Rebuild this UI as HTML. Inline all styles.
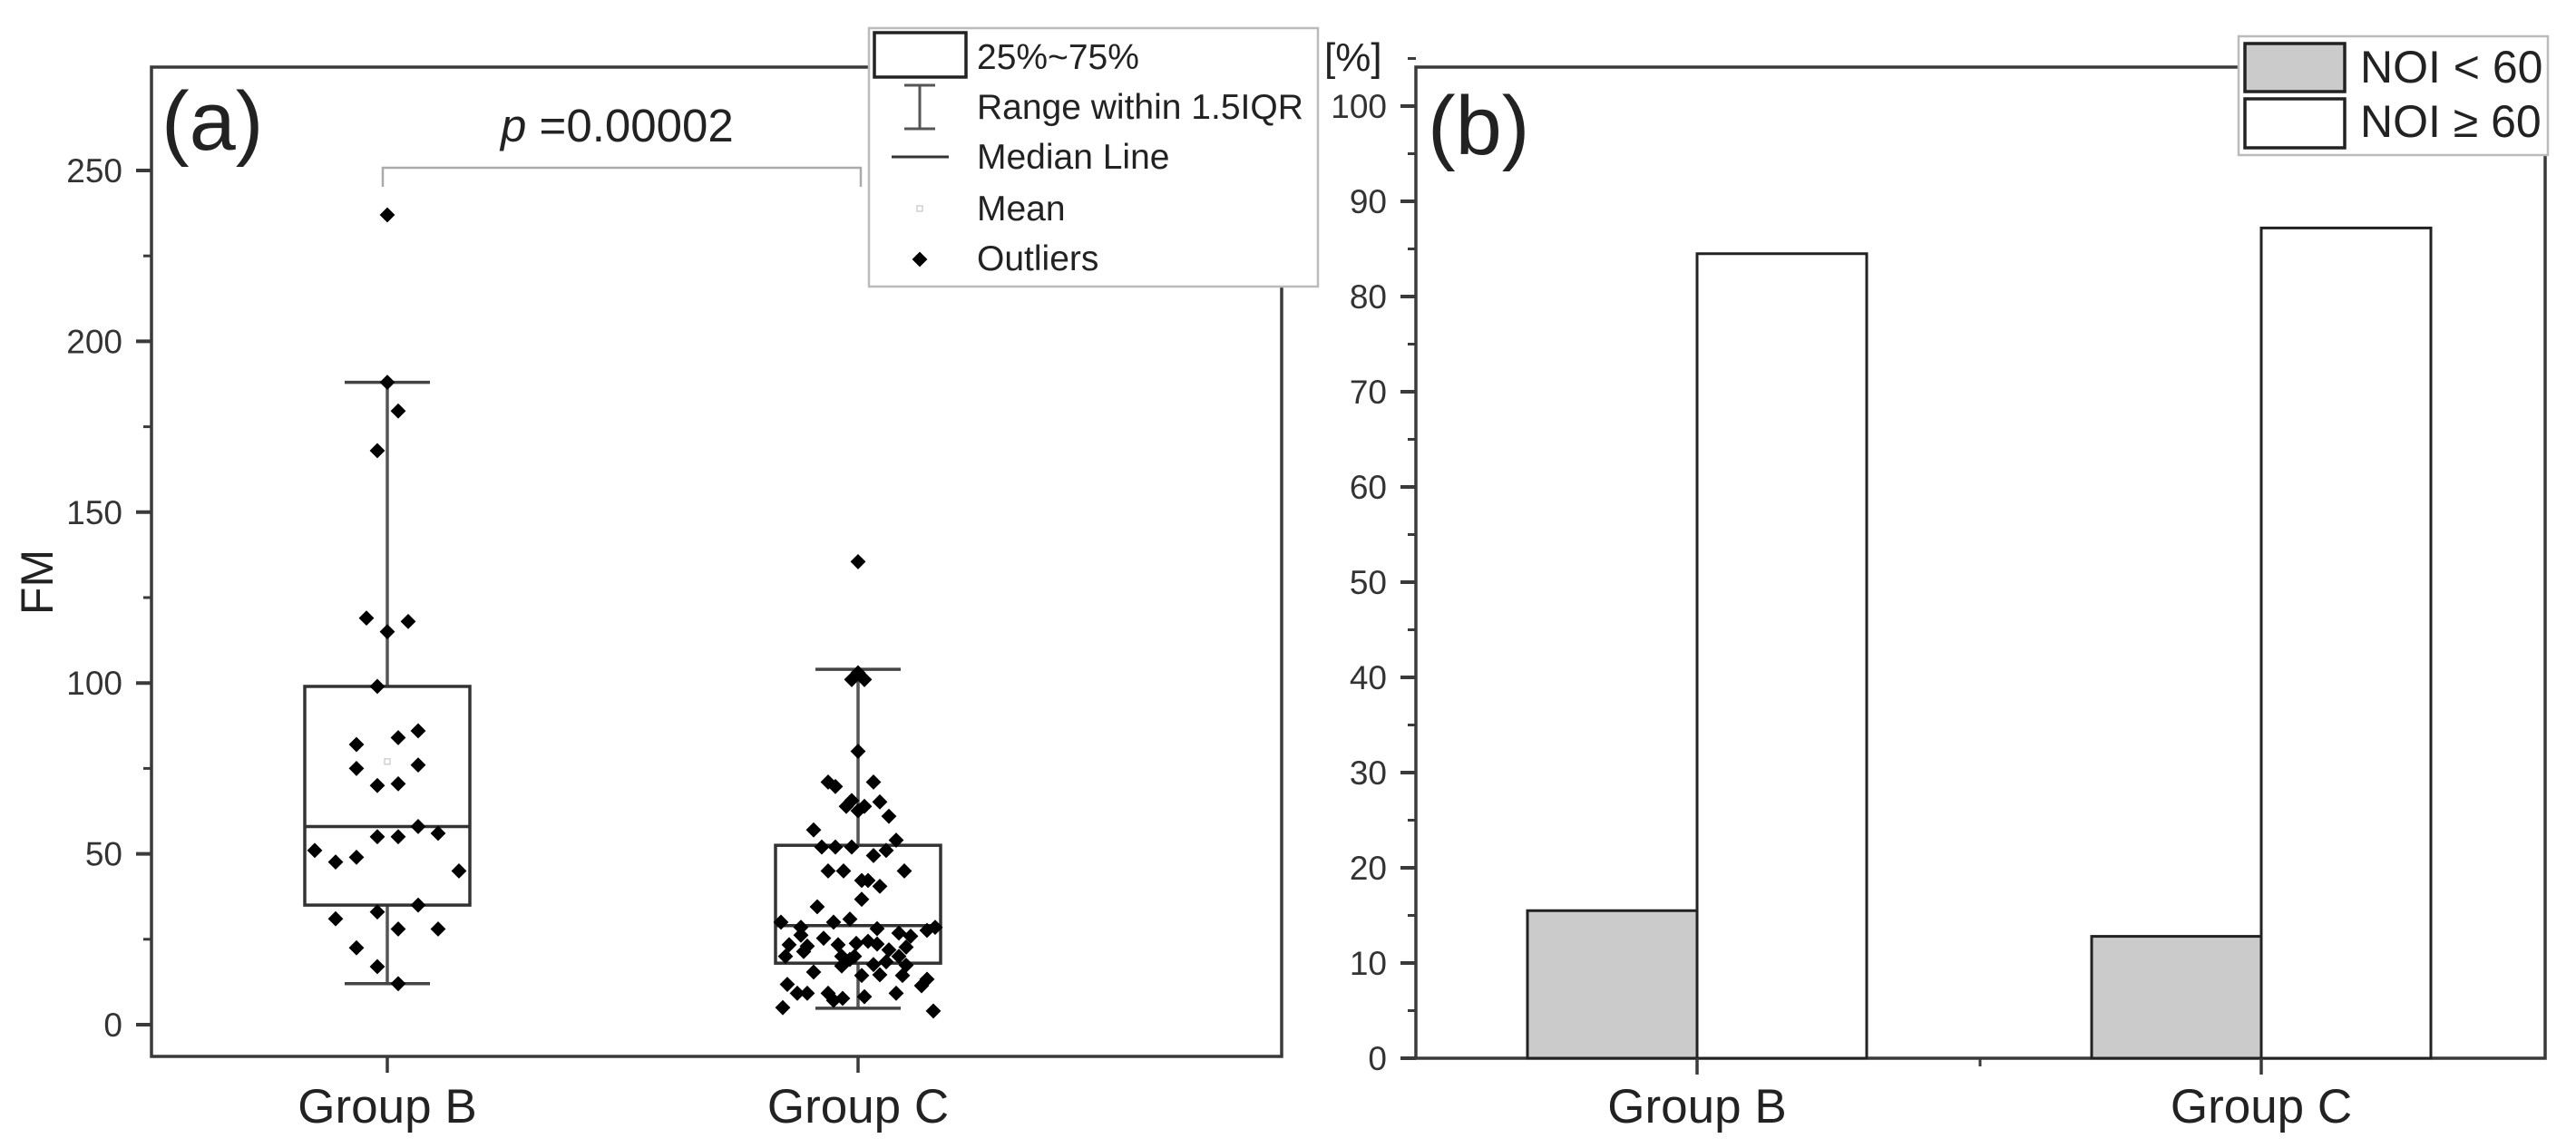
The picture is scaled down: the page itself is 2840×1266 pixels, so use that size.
<!DOCTYPE html>
<html><head><meta charset="utf-8"><style>
html,body{margin:0;padding:0;background:#fff;}
svg{display:block;font-family:"Liberation Sans",Arial,sans-serif;}
</style></head><body>
<svg id="fig" width="2840" height="1266" viewBox="0 0 2840 1266" xmlns="http://www.w3.org/2000/svg">
<g id="pa"></g>
<g id="pb"></g>
</svg>
<script>
// ---------- Panel (a) data ----------
const groupsA = ["Group B", "Group C"];
const q1A = [35, 18];
const medianA = [58, 29];
const q3A = [99, 52.5];
const whiskerLowA = [12, 4.8];
const whiskerHighA = [188, 104];
const meanA = [77, null];
const ticksA = [0, 50, 100, 150, 200, 250];
const pointsBVal = [237,188,179.6,168,119,118,115,99,82,84,86,75,76,70,70.5,55,55,58,56,51,47.6,49,45,31,33,35,28,28,22.5,17,12];
const pointsBJit = [0,0,12,-11,-23,23,0,-11,-34,12,34,-34,34,-11,12,-11,12,34,56,-80,-57,-34,79,-57,-11,34,12,56,-34,-11,12];
const pointsCVal = [135.5,103,101,101,80,71,69.7,71,65.6,63.9,63.9,62.6,65.2,61,57,54,52,52,52,49.5,51,45,45,42.2,42.2,40.5,45,36.7,34.5,30,30,28.5,30.9,28.1,26.8,25.9,27.6,28.5,26.2,23.4,23,25.3,23.4,23.8,24.4,23.6,21.9,22.7,20,21.4,20,20,20,19.1,17.6,18.4,17.4,15.4,17.2,14.4,14.6,14.4,11.8,9.2,9.2,9.2,7.7,11.4,13.3,5,7.1,8.2,9.2,4];
const pointsCJit = [0,0,-7,7,0,-33,-25,17,-7,-13,7,0,24,34,-49,42,-40,-25,-7,17,31,-33,-16,4,11,24,51,4,-45,-85,-27,-63,-9,21,45,58,76,85,-63,-76,-56,-38,-22,-2,11,21,34,53,-80,-60,-18,-4,45,-9,17,31,53,-49,-18,4,24,49,-78,-67,-56,-33,-17,70,76,-83,-27,7,42,83];

// ---------- Panel (b) data ----------
const groupsB = ["Group B", "Group C"];
const seriesLow = [15.5, 12.8];
const seriesHigh = [84.5, 87.2];
const ticksB = [0,10,20,30,40,50,60,70,80,90,100];

const NS = "http://www.w3.org/2000/svg";
function mk(parent, tag, attrs, text){
  const e = document.createElementNS(NS, tag);
  for (const k in attrs) e.setAttribute(k, attrs[k]);
  if (text !== undefined) e.textContent = text;
  parent.appendChild(e);
  return e;
}
const AX = "#3a3a3a", TXT = "#222";

// ===== Panel A =====
const pa = document.getElementById("pa");
const aL = 167, aR = 1413, aT = 74, aB = 1165;
const yA = v => 1130 - v * (942 / 250);
const xA = i => 427 + i * 519;

let fr = mk(pa, "rect", {x:aL, y:aT, width:aR-aL, height:aB-aT, fill:"none", stroke:AX, "stroke-width":3.5});


ticksA.forEach(t => {
  const y = yA(t);
  let tk = mk(pa, "line", {x1:aL-17, x2:aL, y1:y, y2:y, stroke:AX, "stroke-width":4});
  
  
  let lb = mk(pa, "text", {x:aL-32, y:y+13, "text-anchor":"end", "font-size":37, fill:"#333"}, String(t));
  
  
  if (t < 250) {
    const ym = yA(t + 25);
    let mn = mk(pa, "line", {x1:aL-9, x2:aL, y1:ym, y2:ym, stroke:AX, "stroke-width":3});
    
    
  }
});
let ya = mk(pa, "text", {x:0, y:0, transform:"translate(58,642) rotate(-90)", "text-anchor":"middle", "font-size":50, fill:TXT}, "FM");


let la = mk(pa, "text", {x:178, y:165, "font-size":92, fill:TXT}, "(a)");



groupsA.forEach((g, i) => {
  const cx = xA(i);
  let xt = mk(pa, "line", {x1:cx, x2:cx, y1:aB, y2:aB+18, stroke:AX, "stroke-width":3.5});
  
  
  let xl = mk(pa, "text", {x:cx, y:1238, "text-anchor":"middle", "font-size":53, fill:TXT}, g);
  
  
  let wk = mk(pa, "line", {x1:cx, x2:cx, y1:yA(whiskerLowA[i]), y2:yA(whiskerHighA[i]), stroke:"#555", "stroke-width":3.5});
  
  
  [whiskerLowA[i], whiskerHighA[i]].forEach(v => {
    let cp = mk(pa, "line", {x1:cx-47, x2:cx+47, y1:yA(v), y2:yA(v), stroke:"#444", "stroke-width":3.5});
    
    
  });
  let bx = mk(pa, "rect", {x:cx-91, y:yA(q3A[i]), width:182, height:yA(q1A[i])-yA(q3A[i]), fill:"#fff", stroke:"#333", "stroke-width":3.5});
  
  
  let md = mk(pa, "line", {x1:cx-91, x2:cx+91, y1:yA(medianA[i]), y2:yA(medianA[i]), stroke:"#333", "stroke-width":3.5});
  
  
  if (meanA[i] !== null) {
    let mnq = mk(pa, "rect", {x:cx-3, y:yA(meanA[i])-3, width:6, height:6, fill:"none", stroke:"#bbb", "stroke-width":1});
    
    
  }
});
function diamond(parent, x, y){
  const s = 7;
  return mk(parent, "polygon", {points:`${x},${y-s} ${x+s},${y} ${x},${y+s} ${x-s},${y}`, fill:"#000", stroke:"#000", "stroke-width":2});
}
pointsBVal.forEach((v, k) => {
  const d = diamond(pa, xA(0) + pointsBJit[k], yA(v));
  
  
});
pointsCVal.forEach((v, k) => {
  const d = diamond(pa, xA(1) + pointsCJit[k], yA(v));
  
  
});
let br = mk(pa, "polyline", {points:"422,206 422,185 949,185 949,206", fill:"none", stroke:"#aaa", "stroke-width":2.5});


let pt = mk(pa, "text", {x:552, y:156, "font-size":51, fill:TXT});


mk(pt, "tspan", {"font-style":"italic"}, "p");
mk(pt, "tspan", {}, " =0.00002");

const lgA = mk(pa, "g", {});


mk(lgA, "rect", {x:958, y:31, width:495, height:285, fill:"#fff", stroke:"#bbb", "stroke-width":2.5});
mk(lgA, "rect", {x:964, y:36, width:101, height:49, fill:"#fff", stroke:"#222", "stroke-width":3.5});
mk(lgA, "line", {x1:1014, x2:1014, y1:94, y2:142, stroke:"#555", "stroke-width":3});
mk(lgA, "line", {x1:997, x2:1031, y1:94, y2:94, stroke:"#555", "stroke-width":3});
mk(lgA, "line", {x1:997, x2:1031, y1:142, y2:142, stroke:"#555", "stroke-width":3});
mk(lgA, "line", {x1:983, x2:1046, y1:173, y2:173, stroke:"#333", "stroke-width":3});
mk(lgA, "rect", {x:1011, y:227, width:6, height:6, fill:"none", stroke:"#bbb", "stroke-width":1});
diamond(lgA, 1014, 286);
const lgTexts = ["25%~75%", "Range within 1.5IQR", "Median Line", "Mean", "Outliers"];
const lgY = [76, 131, 186, 243, 298];
lgTexts.forEach((t, k) => {
  const e = mk(lgA, "text", {x:1077, y:lgY[k], "font-size":39, fill:TXT}, t);
  
  
});

// ===== Panel B =====
const pb = document.getElementById("pb");
const bL = 1561, bR = 2806, bT = 74, bB = 1167;
const yB = v => 1167 - v * 10.5;
const xB = i => 1871 + i * 622;
const barW = 187;

let frb = mk(pb, "rect", {x:bL, y:bT, width:bR-bL, height:bB-bT, fill:"none", stroke:AX, "stroke-width":3.5});


ticksB.forEach(t => {
  const y = yB(t);
  let tk = mk(pb, "line", {x1:bL-17, x2:bL, y1:y, y2:y, stroke:AX, "stroke-width":4});
  
  
  let lb = mk(pb, "text", {x:bL-32, y:y+13, "text-anchor":"end", "font-size":37, fill:"#333"}, String(t));
  
  
  const ym = yB(t + 5);
  let mn = mk(pb, "line", {x1:bL-9, x2:bL, y1:ym, y2:ym, stroke:AX, "stroke-width":3});
  
  
});
let unit = mk(pb, "text", {x:1460, y:78, "font-size":44, fill:TXT}, "[%]");


let lbb = mk(pb, "text", {x:1574, y:170, "font-size":92, fill:TXT}, "(b)");


let midt = mk(pb, "line", {x1:2183, x2:2183, y1:bB, y2:bB+9, stroke:AX, "stroke-width":3});



groupsB.forEach((g, i) => {
  const cx = xB(i);
  let b1 = mk(pb, "rect", {x:cx-barW, y:yB(seriesLow[i]), width:barW, height:yB(0)-yB(seriesLow[i]), fill:"#cbcbcb", stroke:"#222", "stroke-width":3});
  
  
  let b2 = mk(pb, "rect", {x:cx, y:yB(seriesHigh[i]), width:barW, height:yB(0)-yB(seriesHigh[i]), fill:"#fff", stroke:"#222", "stroke-width":3});
  
  
  let xt = mk(pb, "line", {x1:cx, x2:cx, y1:bB, y2:bB+18, stroke:AX, "stroke-width":3.5});
  
  
  let xl = mk(pb, "text", {x:cx, y:1238, "text-anchor":"middle", "font-size":53, fill:TXT}, g);
  
  
});
const lgB = mk(pb, "g", {});


mk(lgB, "rect", {x:2468, y:40, width:341, height:131, fill:"#fff", stroke:"#bbb", "stroke-width":2.5});
mk(lgB, "rect", {x:2475, y:48, width:110, height:53, fill:"#cbcbcb", stroke:"#222", "stroke-width":3.5});
mk(lgB, "rect", {x:2475, y:109, width:110, height:54, fill:"#fff", stroke:"#222", "stroke-width":3.5});
const l1 = mk(lgB, "text", {x:2602, y:91, "font-size":50, fill:TXT}, "NOI < 60");


const l2 = mk(lgB, "text", {x:2602, y:151, "font-size":50, fill:TXT}, "NOI \u2265 60");


</script>
</body></html>
